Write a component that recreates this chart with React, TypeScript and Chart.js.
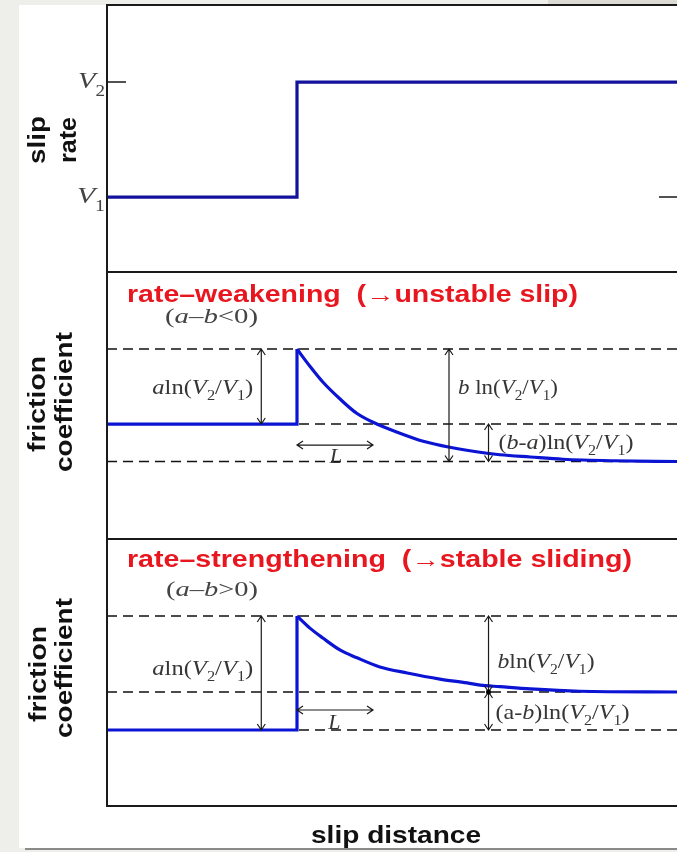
import { useEffect, useRef } from 'react';
import { Chart, registerables } from 'chart.js';

Chart.register(...registerables);

// ---------- data ----------
const V1 = 1;
const V2 = 2;
// slip rate step (x in units of L, step at x = 0)
const slipX = [-2.5, 0, 0, 5];
const slipRate = [V1, V1, V2, V2];

// rate-weakening friction response: steady state + jump, then evolution
const weakBaseX = [-2.5, 0, 0];
const weakBaseMu = [0.6, 0.6, 0.61];
const weakX = [0, 0.17, 0.34, 0.57, 0.79, 1.05, 1.32, 1.66, 2.01, 2.5, 2.67, 3.07, 3.5, 4.16, 5];
const weakMu = [0.61, 0.6077, 0.6056, 0.6033, 0.6014, 0.6, 0.5989, 0.5977, 0.5969, 0.5961, 0.5959, 0.5956, 0.5953, 0.5951, 0.595];
const weakLevels = [0.61, 0.6, 0.595];

// rate-strengthening friction response
const strBaseX = [-2.5, 0, 0];
const strBaseMu = [0.6, 0.6, 0.615];
const strX = [0, 0.17, 0.34, 0.57, 0.79, 1.09, 1.45, 1.88, 2.24, 2.41, 2.67, 3.07, 3.72, 5];
const strMu = [0.615, 0.6134, 0.6121, 0.6105, 0.6095, 0.6083, 0.6075, 0.6067, 0.6062, 0.6059, 0.6057, 0.6054, 0.6051, 0.605];
const strLevels = [0.615, 0.605, 0.6];

const xMin = -2.5;
const xMax = 5;

// ---------- styling helpers ----------
const SANS = "'Liberation Sans', Arial, Helvetica, sans-serif";
const SERIF = "'Liberation Serif', 'Times New Roman', Times, serif";
const RED = '#e8161e';
const TXT = '#363636';
const INK = '#1a1a1a';

type Seg = { t: string; k: 'n' | 'i' | 's' };

function richWidth(ctx: CanvasRenderingContext2D, segs: Seg[], size: number, sub: number) {
  let w = 0;
  for (const s of segs) {
    ctx.font = `${s.k === 'i' ? 'italic ' : ''}${s.k === 's' ? sub : size}px ${SERIF}`;
    w += ctx.measureText(s.t).width;
  }
  return w;
}

function drawRich(
  ctx: CanvasRenderingContext2D,
  segs: Seg[],
  x: number,
  y: number,
  size: number,
  align: 'left' | 'right' | 'center',
  width: number | null,
  color: string,
  sub = Math.round(size * 0.68),
  drop = Math.round(size * 0.28)
) {
  ctx.save();
  ctx.fillStyle = color;
  ctx.textAlign = 'left';
  ctx.textBaseline = 'alphabetic';
  const w = richWidth(ctx, segs, size, sub);
  const W = width ?? w;
  const sx = W / w;
  const x0 = align === 'right' ? x - W : align === 'center' ? x - W / 2 : x;
  ctx.translate(x0, y);
  ctx.scale(sx, 1);
  let cx = 0;
  for (const s of segs) {
    ctx.font = `${s.k === 'i' ? 'italic ' : ''}${s.k === 's' ? sub : size}px ${SERIF}`;
    ctx.fillText(s.t, cx, s.k === 's' ? drop : 0);
    cx += ctx.measureText(s.t).width;
  }
  ctx.restore();
}

function fitText(
  ctx: CanvasRenderingContext2D,
  text: string,
  x: number,
  y: number,
  font: string,
  width: number,
  align: 'left' | 'center',
  color: string
) {
  ctx.save();
  ctx.font = font;
  ctx.fillStyle = color;
  ctx.textAlign = 'left';
  ctx.textBaseline = 'alphabetic';
  const w = ctx.measureText(text).width;
  const x0 = align === 'center' ? x - width / 2 : x;
  ctx.translate(x0, y);
  ctx.scale(width / w, 1);
  ctx.fillText(text, 0, 0);
  ctx.restore();
}

function vertText(ctx: CanvasRenderingContext2D, text: string, xBase: number, yCenter: number, len: number) {
  ctx.save();
  ctx.translate(xBase, yCenter);
  ctx.rotate(-Math.PI / 2);
  ctx.font = `bold 24px ${SANS}`;
  ctx.fillStyle = '#111';
  ctx.textAlign = 'center';
  ctx.textBaseline = 'alphabetic';
  const w = ctx.measureText(text).width;
  ctx.scale(len / w, 1);
  ctx.fillText(text, 0, 0);
  ctx.restore();
}

function head(ctx: CanvasRenderingContext2D, tx: number, ty: number, dx: number, dy: number) {
  const len = 6;
  const half = 4;
  const px = -dy;
  const py = dx;
  ctx.moveTo(tx - dx * len + px * half, ty - dy * len + py * half);
  ctx.lineTo(tx, ty);
  ctx.lineTo(tx - dx * len - px * half, ty - dy * len - py * half);
}

function vArrow(ctx: CanvasRenderingContext2D, x: number, y1: number, y2: number) {
  ctx.beginPath();
  ctx.moveTo(x, y1);
  ctx.lineTo(x, y2);
  head(ctx, x, y1, 0, -1);
  head(ctx, x, y2, 0, 1);
  ctx.stroke();
}

function hArrow(ctx: CanvasRenderingContext2D, x1: number, x2: number, y: number) {
  ctx.beginPath();
  ctx.moveTo(x1, y);
  ctx.lineTo(x2, y);
  head(ctx, x1, y, -1, 0);
  head(ctx, x2, y, 1, 0);
  ctx.stroke();
}

const lnV: Seg[] = [
  { t: 'ln(', k: 'n' },
  { t: 'V', k: 'i' },
  { t: '2', k: 's' },
  { t: '/', k: 'n' },
  { t: 'V', k: 'i' },
  { t: '1', k: 's' },
  { t: ')', k: 'n' },
];

const diagramPlugin = {
  id: 'diagram',
  beforeDraw(chart: any) {
    const { ctx, width, height } = chart;
    ctx.save();
    ctx.fillStyle = '#eeeeea';
    ctx.fillRect(0, 0, width, height);
    ctx.fillStyle = '#dcdbd3';
    ctx.fillRect(548, 0, width - 548, 5);
    ctx.fillStyle = '#ffffff';
    ctx.fillRect(19, 5, width - 19, 843);
    ctx.strokeStyle = '#8a8a8a';
    ctx.lineWidth = 2;
    ctx.beginPath();
    ctx.moveTo(25, 849);
    ctx.lineTo(width, 849);
    ctx.stroke();
    ctx.restore();
  },
  afterDatasetsDraw(chart: any) {
    const { ctx, chartArea: ca, scales } = chart;
    const xs = scales.x;
    const yR = scales.yRate;
    const yW = scales.yWeak;
    const yS = scales.yStr;
    const px = (v: number) => xs.getPixelForValue(v);
    ctx.save();

    // panel frames
    ctx.strokeStyle = INK;
    ctx.lineWidth = 2;
    ctx.beginPath();
    for (const s of [yR, yW, yS]) {
      ctx.moveTo(ca.left - 1, s.top);
      ctx.lineTo(ca.right, s.top);
    }
    ctx.moveTo(ca.left - 1, ca.bottom);
    ctx.lineTo(ca.right, ca.bottom);
    ctx.moveTo(ca.left, ca.top);
    ctx.lineTo(ca.left, ca.bottom);
    ctx.stroke();

    // slip rate ticks + labels
    const yv2 = yR.getPixelForValue(V2);
    const yv1 = yR.getPixelForValue(V1);
    ctx.lineWidth = 1.5;
    ctx.beginPath();
    ctx.moveTo(ca.left, yv2);
    ctx.lineTo(ca.left + 19, yv2);
    ctx.moveTo(ca.right - 18, yv1);
    ctx.lineTo(ca.right, yv1);
    ctx.stroke();
    drawRich(ctx, [{ t: 'V', k: 'i' }, { t: '2', k: 's' }], ca.left - 2, yv2 + 6, 24, 'right', 27, '#444', 16, 8);
    drawRich(ctx, [{ t: 'V', k: 'i' }, { t: '1', k: 's' }], ca.left - 2, yv1 + 6, 24, 'right', 28, '#444', 16, 8);

    // arrows
    ctx.strokeStyle = INK;
    ctx.lineWidth = 1.2;
    const wv = weakLevels.map((v) => yW.getPixelForValue(v));
    const sv = strLevels.map((v) => yS.getPixelForValue(v));
    vArrow(ctx, px(-0.47), wv[0], wv[1]);
    vArrow(ctx, px(2.0), wv[0], wv[2]);
    vArrow(ctx, px(2.52), wv[1], wv[2]);
    hArrow(ctx, px(0), px(1), yW.getPixelForValue(0.5972));

    vArrow(ctx, px(-0.47), sv[0], sv[2]);
    vArrow(ctx, px(2.52), sv[0], sv[1]);
    vArrow(ctx, px(2.52), sv[1], sv[2]);
    hArrow(ctx, px(0), px(1), yS.getPixelForValue(0.60263));
    ctx.fillStyle = '#000';
    ctx.beginPath();
    ctx.arc(px(2.52), sv[1], 2.5, 0, Math.PI * 2);
    ctx.fill();

    // weakening annotation text
    drawRich(ctx, [{ t: 'a', k: 'i' }, ...lnV], px(-0.47) - 8, (wv[0] + wv[1]) / 2 + 7, 21, 'right', 101, TXT);
    drawRich(ctx, [{ t: 'b', k: 'i' }, { t: ' ', k: 'n' }, ...lnV], px(2.0) + 9, (wv[0] + wv[1]) / 2 + 7, 21, 'left', 100, TXT);
    drawRich(
      ctx,
      [{ t: '(', k: 'n' }, { t: 'b', k: 'i' }, { t: '-', k: 'n' }, { t: 'a', k: 'i' }, { t: ')', k: 'n' }, ...lnV],
      px(2.52) + 10,
      (wv[1] + wv[2]) / 2 + 6,
      21,
      'left',
      135,
      TXT
    );
    drawRich(ctx, [{ t: 'L', k: 'i' }], px(0.43), wv[2] + 1, 22, 'left', null, TXT);

    // strengthening annotation text
    drawRich(ctx, [{ t: 'a', k: 'i' }, ...lnV], px(-0.47) - 8, (sv[0] + sv[2]) / 2 + 2, 21, 'right', 101, TXT);
    drawRich(ctx, [{ t: 'b', k: 'i' }, ...lnV], px(2.52) + 9, (sv[0] + sv[1]) / 2 + 14, 21, 'left', 97, TXT);
    drawRich(
      ctx,
      [{ t: '(a-', k: 'n' }, { t: 'b', k: 'i' }, { t: ')', k: 'n' }, ...lnV],
      px(2.52) + 7,
      (sv[1] + sv[2]) / 2 + 8,
      21,
      'left',
      134,
      TXT
    );
    drawRich(ctx, [{ t: 'L', k: 'i' }], px(0.41), sv[2] - 1, 22, 'left', null, TXT);

    // panel titles
    fitText(ctx, 'rate\u2013weakening  (\u2192unstable slip)', ca.left + 20, yW.top + 30, `bold 23px ${SANS}`, 451, 'left', RED);
    drawRich(
      ctx,
      [{ t: '(', k: 'n' }, { t: 'a', k: 'i' }, { t: '\u2013', k: 'n' }, { t: 'b', k: 'i' }, { t: '<0)', k: 'n' }],
      ca.left + 58,
      yW.top + 51,
      22,
      'left',
      93,
      '#444'
    );
    fitText(ctx, 'rate\u2013strengthening  (\u2192stable sliding)', ca.left + 20, yS.top + 28, `bold 23px ${SANS}`, 505, 'left', RED);
    drawRich(
      ctx,
      [{ t: '(', k: 'n' }, { t: 'a', k: 'i' }, { t: '\u2013', k: 'n' }, { t: 'b', k: 'i' }, { t: '>0)', k: 'n' }],
      ca.left + 59,
      yS.top + 57,
      22,
      'left',
      92,
      '#444'
    );

    // axis labels
    vertText(ctx, 'slip', 45, 140, 48);
    vertText(ctx, 'rate', 76, 140, 46);
    vertText(ctx, 'friction', 45, 404, 96);
    vertText(ctx, 'coefficient', 72, 402, 140);
    vertText(ctx, 'friction', 46, 674, 96);
    vertText(ctx, 'coefficient', 72, 668, 140);
    fitText(ctx, 'slip distance', 396, 843, `bold 24px ${SANS}`, 170, 'center', '#111');

    ctx.restore();
  },
};

const pts = (xs: number[], ys: number[]) => xs.map((x, i) => ({ x, y: ys[i] }));
const level = (v: number) => [
  { x: xMin, y: v },
  { x: xMax, y: v },
];

export default function App() {
  const ref = useRef<HTMLCanvasElement>(null);
  useEffect(() => {
    const dashed = (v: number, axis: string) => ({
      data: level(v),
      yAxisID: axis,
      borderColor: '#111',
      borderWidth: 1.6,
      borderDash: [10, 6],
      pointRadius: 0,
      order: 2,
    });
    const blue = '#0c14d4';
    const solid = (data: any[], axis: string, color: string, smooth: boolean) => ({
      data,
      yAxisID: axis,
      borderColor: color,
      borderWidth: 3.2,
      pointRadius: 0,
      order: 0,
      cubicInterpolationMode: smooth ? 'monotone' : 'default',
      tension: smooth ? 0.4 : 0,
      borderCapStyle: 'butt',
    });
    const chart = new Chart(ref.current as HTMLCanvasElement, {
      type: 'line',
      data: {
        datasets: [
          solid(pts(slipX, slipRate), 'yRate', '#12129c', false),
          solid(pts(weakBaseX, weakBaseMu), 'yWeak', blue, false),
          solid(pts(weakX, weakMu), 'yWeak', blue, true),
          solid(pts(strBaseX, strBaseMu), 'yStr', blue, false),
          solid(pts(strX, strMu), 'yStr', blue, true),
          ...weakLevels.map((v) => dashed(v, 'yWeak')),
          ...strLevels.map((v) => dashed(v, 'yStr')),
        ] as any,
      },
      options: {
        responsive: false,
        animation: false,
        events: [],
        layout: { padding: { left: 107, right: 0, top: 5, bottom: 46 } },
        plugins: { legend: { display: false }, tooltip: { enabled: false }, title: { display: false } },
        elements: { line: { borderJoinStyle: 'miter' } },
        scales: {
          x: { type: 'linear', min: xMin, max: xMax, display: false },
          yRate: { type: 'linear', position: 'left', stack: 'panels', stackWeight: 1, weight: 3, min: 0.348, max: 2.67, display: false },
          yWeak: { type: 'linear', position: 'left', stack: 'panels', stackWeight: 1, weight: 2, min: 0.58467, max: 0.62027, display: false },
          yStr: { type: 'linear', position: 'left', stack: 'panels', stackWeight: 1, weight: 1, min: 0.59, max: 0.62513, display: false },
        },
      } as any,
      plugins: [diagramPlugin],
    });
    return () => chart.destroy();
  }, []);
  return (
    <div style={{ position: 'fixed', left: 0, top: 0, width: 677, height: 852 }}>
      <canvas ref={ref} width={677} height={852} style={{ display: 'block', width: 677, height: 852 }} />
    </div>
  );
}
